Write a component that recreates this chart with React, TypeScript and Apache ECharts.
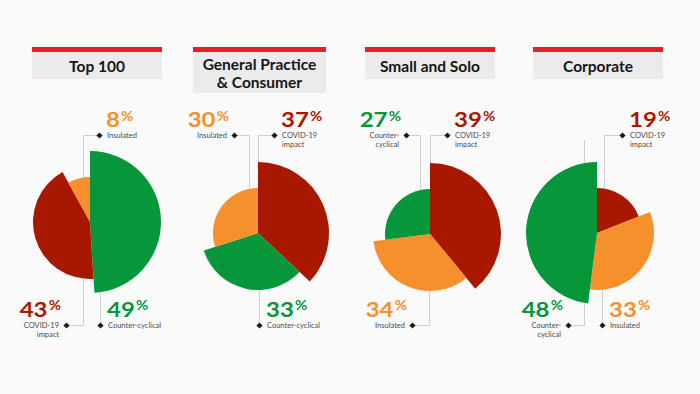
import React, { useEffect, useRef } from 'react';
import * as echarts from 'echarts';

// ---------- data ----------
const panelTitles = ['Top 100', 'General Practice\n& Consumer', 'Small and Solo', 'Corporate'];

const top100Categories = ['Counter-cyclical', 'COVID-19 impact', 'Insulated'];
const top100Values = [49, 43, 8];

const generalCategories = ['COVID-19 impact', 'Counter-cyclical', 'Insulated'];
const generalValues = [37, 33, 30];

const smallCategories = ['COVID-19 impact', 'Insulated', 'Counter-cyclical'];
const smallValues = [39, 34, 27];

const corporateCategories = ['COVID-19 impact', 'Insulated', 'Counter-cyclical'];
const corporateValues = [19, 33, 48];

const panelCategories = [top100Categories, generalCategories, smallCategories, corporateCategories];
const panelValues = [top100Values, generalValues, smallValues, corporateValues];

// ---------- styling / layout ----------
const categoryColors: Record<string, string> = {
  'COVID-19 impact': '#a81800',
  'Counter-cyclical': '#07973a',
  Insulated: '#f5902c',
};
const rankRadii = [45, 57, 71]; // smallest, middle, largest

type LabelLayout = { diamondX: number; pos: 'top' | 'bottom'; align: 'left' | 'right'; wrap: boolean; elbowX: number; endY: number };
type PanelLayout = { boxX: number; boxW: number; boxH: number; center: [number, number]; labels: LabelLayout[] };

const layouts: PanelLayout[] = [
  {
    boxX: 32, boxW: 130, boxH: 27, center: [90, 222],
    labels: [
      { diamondX: 100, pos: 'bottom', align: 'left', wrap: false, elbowX: 100, endY: 222 },
      { diamondX: 66, pos: 'bottom', align: 'right', wrap: true, elbowX: 83, endY: 222 },
      { diamondX: 99, pos: 'top', align: 'left', wrap: false, elbowX: 83, endY: 222 },
    ],
  },
  {
    boxX: 193, boxW: 133, boxH: 41, center: [258, 233],
    labels: [
      { diamondX: 274, pos: 'top', align: 'left', wrap: true, elbowX: 258, endY: 233 },
      { diamondX: 259, pos: 'bottom', align: 'left', wrap: false, elbowX: 259, endY: 233 },
      { diamondX: 234, pos: 'top', align: 'right', wrap: false, elbowX: 249, endY: 233 },
    ],
  },
  {
    boxX: 365, boxW: 130, boxH: 27, center: [430, 234],
    labels: [
      { diamondX: 447, pos: 'top', align: 'left', wrap: true, elbowX: 430, endY: 234 },
      { diamondX: 412, pos: 'bottom', align: 'right', wrap: false, elbowX: 429, endY: 234 },
      { diamondX: 406, pos: 'top', align: 'right', wrap: true, elbowX: 420, endY: 234 },
    ],
  },
  {
    boxX: 533, boxW: 130, boxH: 27, center: [597, 233],
    labels: [
      { diamondX: 622, pos: 'top', align: 'left', wrap: true, elbowX: 604, endY: 233 },
      { diamondX: 602, pos: 'bottom', align: 'left', wrap: false, elbowX: 602, endY: 233 },
      { diamondX: 568, pos: 'bottom', align: 'right', wrap: true, elbowX: 584, endY: 140 },
    ],
  },
];

const TOP_NUM_Y = 119.5;
const BOTTOM_NUM_Y = 309;
const TOP_TEXT_Y = 135;
const BOTTOM_TEXT_Y = 325;
const SMALL_LINE_H = 9;
const FONT = 'Lato, "Noto Sans", sans-serif';

function labelText(cat: string, wrap: boolean): string {
  if (cat === 'COVID-19 impact') return 'COVID-19\nimpact';
  if (cat === 'Counter-cyclical' && wrap) return 'Counter-\ncyclical';
  return cat;
}

function rankRadius(values: number[], i: number): number {
  const sorted = [...values].sort((a, b) => a - b);
  return rankRadii[sorted.indexOf(values[i])];
}

function buildOption() {
  const series: any[] = [];
  const graphics: any[] = [];

  panelValues.forEach((values, p) => {
    const cats = panelCategories[p];
    const L = layouts[p];

    values.forEach((_, i) => {
      series.push({
        type: 'pie',
        center: L.center,
        radius: [0, rankRadius(values, i)],
        startAngle: 90,
        clockwise: true,
        silent: true,
        z: 2,
        label: { show: false },
        labelLine: { show: false },
        emphasis: { disabled: true },
        itemStyle: { borderWidth: 0 },
        data: values.map((v, j) => ({
          name: cats[j],
          value: v,
          itemStyle: { color: j === i ? categoryColors[cats[j]] : 'rgba(0,0,0,0)' },
        })),
      });
    });

    // title box
    graphics.push({
      type: 'rect', z: 1,
      shape: { x: L.boxX, y: 52, width: L.boxW, height: L.boxH },
      style: { fill: '#ebebeb' },
    });
    graphics.push({
      type: 'rect', z: 1,
      shape: { x: L.boxX, y: 47, width: L.boxW, height: 5 },
      style: { fill: '#e5202a' },
    });
    graphics.push({
      type: 'text', z: 5,
      x: L.boxX + L.boxW / 2,
      y: 52 + L.boxH / 2 + 0.5,
      scaleX: 1.07,
      style: {
        text: panelTitles[p],
        fill: '#151515',
        font: `bold 14.5px ${FONT}`,
        lineHeight: 17.5,
        align: 'center',
        verticalAlign: 'middle',
      },
    });

    // labels
    values.forEach((v, i) => {
      const lab = L.labels[i];
      const cat = cats[i];
      const color = categoryColors[cat];
      const isTop = lab.pos === 'top';
      const textY = isTop ? TOP_TEXT_Y : BOTTOM_TEXT_Y;
      const numY = isTop ? TOP_NUM_Y : BOTTOM_NUM_Y;
      const dx = lab.diamondX;

      // leader line
      let pts: number[][];
      if (lab.elbowX !== dx) {
        pts = [[dx, textY + 0.5], [lab.elbowX + 0.5, textY + 0.5], [lab.elbowX + 0.5, lab.endY]];
      } else {
        pts = [[dx + 0.5, textY], [dx + 0.5, lab.endY]];
      }
      graphics.push({
        type: 'polyline', z: 0,
        shape: { points: pts },
        style: { stroke: '#cfcfcf', lineWidth: 1, fill: null },
      });
      // diamond
      graphics.push({
        type: 'polygon', z: 5,
        shape: { points: [[dx - 2.6, textY + 0.5], [dx + 0.5, textY - 2.6], [dx + 3.6, textY + 0.5], [dx + 0.5, textY + 3.6]] },
        style: { fill: '#1a1a1a' },
      });

      const left = lab.align === 'left';
      // small category text
      graphics.push({
        type: 'text', z: 5,
        x: left ? dx + 8 : dx - 7,
        y: textY - SMALL_LINE_H / 2,
        style: {
          text: labelText(cat, lab.wrap),
          fill: '#4a4a4a',
          font: `7.5px ${FONT}`,
          lineHeight: SMALL_LINE_H,
          align: left ? 'left' : 'right',
          verticalAlign: 'top',
        },
      });
      // big value
      graphics.push({
        type: 'text', z: 5,
        x: left ? dx + 7 : dx - 5,
        y: numY,
        scaleX: 1.2,
        style: {
          text: `{n|${v}}{p|%}`,
          align: left ? 'left' : 'right',
          verticalAlign: 'middle',
          rich: {
            n: { fontFamily: FONT, fontSize: 20, fontWeight: 'bold', fill: color, lineHeight: 20 },
            p: { fontFamily: FONT, fontSize: 12.5, fontWeight: 'bold', fill: color, lineHeight: 13, verticalAlign: 'top', padding: [0, 0, 0, 1] },
          },
        },
      });
    });
  });

  return {
    animation: false,
    backgroundColor: '#fafafa',
    series,
    graphic: { elements: graphics },
  };
}

export default function App() {
  const ref = useRef<HTMLDivElement>(null);
  useEffect(() => {
    document.body.style.margin = '0';
    const chart = echarts.init(ref.current!, null, { renderer: 'svg' });
    chart.setOption(buildOption() as any);
    return () => chart.dispose();
  }, []);
  return <div ref={ref} style={{ width: 700, height: 394 }} />;
}
